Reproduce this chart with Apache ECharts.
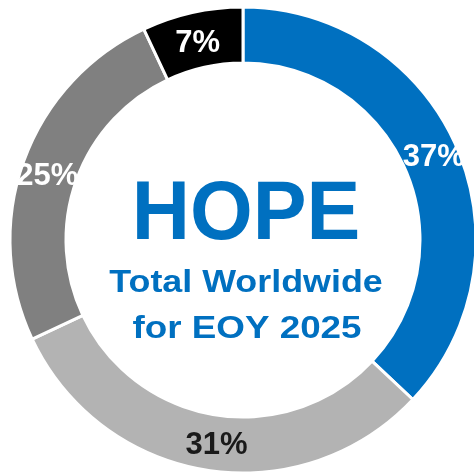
<!DOCTYPE html>
<html>
<head>
<meta charset="utf-8">
<script src="https://cdn.jsdelivr.net/npm/echarts@6/dist/echarts.min.js"></script>
<style>
html,body{margin:0;padding:0;background:#fff;}
#chart{width:474px;height:472px;}
</style>
</head>
<body>
<div id="chart"></div>
<script>
var categories = ['Blue', 'Light Gray', 'Gray', 'Black'];
var values = [37, 31, 25, 7];
var sliceColors = ['#0070C0', '#B3B3B3', '#808080', '#000000'];
var labelColors = ['#FFFFFF', '#1A1A1A', '#FFFFFF', '#FFFFFF'];
var labelGapTop = [0, 0, 14, 12];
var labelPadLeft = [0, 12, 0, 0];
var centerLines = ['HOPE', 'Total Worldwide', 'for EOY 2025'];

var FONT = '"Liberation Sans", Arial, sans-serif';
var chart = echarts.init(document.getElementById('chart'), null, {renderer: 'canvas'});

var data = categories.map(function (c, i) {
  var lab = {color: labelColors[i], padding: [0, 0, 0, labelPadLeft[i]]};
  if (labelGapTop[i] > 0) {
    lab.formatter = '{gap|}\n{c}%';
    lab.rich = {gap: {height: labelGapTop[i], fontSize: 1, lineHeight: labelGapTop[i]}};
  }
  return {
    name: c,
    value: values[i],
    itemStyle: {color: sliceColors[i]},
    label: lab
  };
});

chart.setOption({
  animation: false,
  backgroundColor: '#FFFFFF',
  series: [{
    type: 'pie',
    center: [243, 240],
    radius: [177, 233],
    startAngle: 90,
    clockwise: true,
    avoidLabelOverlap: false,
    itemStyle: {borderColor: '#FFFFFF', borderWidth: 3},
    label: {
      show: true,
      position: 'inside',
      formatter: '{c}%',
      fontSize: 31,
      fontWeight: 'bold',
      fontFamily: FONT
    },
    labelLine: {show: false},
    emphasis: {disabled: true},
    data: data
  }],
  graphic: [
    {
      type: 'circle', z: 50, silent: true,
      shape: {cx: 243, cy: 240, r: 176.5},
      style: {fill: '#FFFFFF'}
    },
    {
      type: 'text', z: 60, x: 246, y: 216, scaleX: 0.96,
      style: {text: centerLines[0], x: 0, y: 0, fill: '#0070C0', align: 'center', verticalAlign: 'middle',
        font: 'bold 84px ' + FONT}
    },
    {
      type: 'text', z: 60, x: 246, y: 283, scaleX: 1.12,
      style: {text: centerLines[1], x: 0, y: 0, fill: '#0070C0', align: 'center', verticalAlign: 'middle',
        font: 'bold 32px ' + FONT}
    },
    {
      type: 'text', z: 60, x: 247, y: 329, scaleX: 1.15,
      style: {text: centerLines[2], x: 0, y: 0, fill: '#0070C0', align: 'center', verticalAlign: 'middle',
        font: 'bold 32px ' + FONT}
    }
  ]
});
</script>
</body>
</html>
